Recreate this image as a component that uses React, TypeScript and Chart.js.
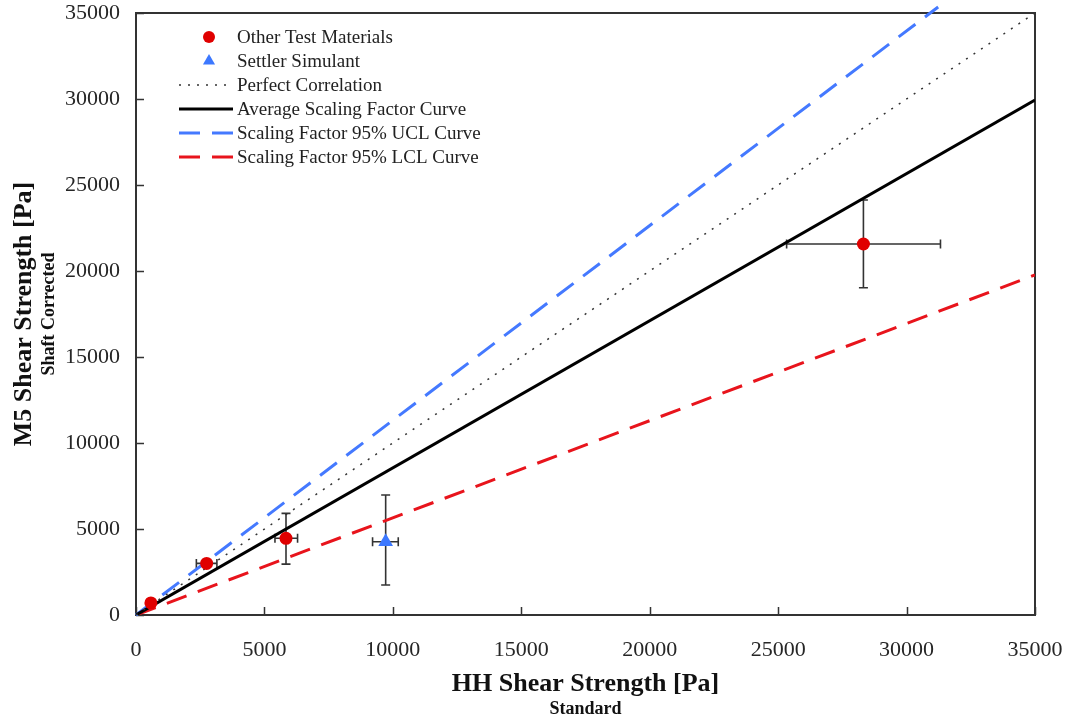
import React, { useEffect, useRef } from 'react';
import { Chart, registerables } from 'chart.js';

Chart.register(...registerables);

const FONT = '"Liberation Serif", "Times New Roman", serif';

// ---- data ----
const otherX = [580, 2750, 5840, 28320];
const otherY = [700, 3000, 4460, 21570];
const otherXLow = [null, 2350, 5410, 25330];
const otherXHigh = [null, 3150, 6290, 31320];
const otherYLow = [null, null, 2960, 19030];
const otherYHigh = [null, null, 5910, 24130];

const settlerX = [9720];
const settlerY = [4260];
const settlerXLow = [9210];
const settlerXHigh = [10210];
const settlerYLow = [1740];
const settlerYHigh = [6980];

const perfectX = [0, 35000];
const perfectY = [0, 35000];
const avgX = [0, 35000];
const avgY = [0, 29940];
const uclX = [0, 31230];
const uclY = [0, 35350];
const lclX = [0, 35000];
const lclY = [0, 19770];

const xTickValues = [0, 5000, 10000, 15000, 20000, 25000, 30000, 35000];
const yTickValues = [0, 5000, 10000, 15000, 20000, 25000, 30000, 35000];

const legendLabels = [
  'Other Test Materials',
  'Settler Simulant',
  'Perfect Correlation',
  'Average Scaling Factor Curve',
  'Scaling Factor 95% UCL Curve',
  'Scaling Factor 95% LCL Curve',
];

const xTitle = 'HH Shear Strength [Pa]';
const xSubtitle = 'Standard';
const yTitle = 'M5 Shear Strength [Pa]';
const ySubtitle = 'Shaft Corrected';

const RED = '#E00000';
const BLUE_PT = '#3C78FF';
const BLUE_LINE = '#4479FF';
const RED_LINE = '#E8141C';
const AXIS = '#333333';

const zip = (xs: number[], ys: number[]) => xs.map((x, i) => ({ x, y: ys[i] }));

export default function App() {
  const ref = useRef<HTMLCanvasElement>(null);

  useEffect(() => {
    const canvas = ref.current!;

    const errorBarPlugin = {
      id: 'errorBars',
      beforeDatasetsDraw(chart: any) {
        const { ctx, scales } = chart;
        const xs = scales.x;
        const ys = scales.y;
        const groups = [
          [otherX, otherY, otherXLow, otherXHigh, otherYLow, otherYHigh],
          [settlerX, settlerY, settlerXLow, settlerXHigh, settlerYLow, settlerYHigh],
        ] as any[];
        ctx.save();
        ctx.strokeStyle = AXIS;
        ctx.lineWidth = 1.6;
        const cap = 4.5;
        groups.forEach(([gx, gy, xl, xh, yl, yh]) => {
          gx.forEach((xv: number, i: number) => {
            const px = xs.getPixelForValue(xv);
            const py = ys.getPixelForValue(gy[i]);
            if (xl[i] != null && xh[i] != null) {
              const a = xs.getPixelForValue(xl[i]);
              const b = xs.getPixelForValue(xh[i]);
              ctx.beginPath();
              ctx.moveTo(a, py); ctx.lineTo(b, py);
              ctx.moveTo(a, py - cap); ctx.lineTo(a, py + cap);
              ctx.moveTo(b, py - cap); ctx.lineTo(b, py + cap);
              ctx.stroke();
            }
            if (yl[i] != null && yh[i] != null) {
              const a = ys.getPixelForValue(yl[i]);
              const b = ys.getPixelForValue(yh[i]);
              ctx.beginPath();
              ctx.moveTo(px, a); ctx.lineTo(px, b);
              ctx.moveTo(px - cap, a); ctx.lineTo(px + cap, a);
              ctx.moveTo(px - cap, b); ctx.lineTo(px + cap, b);
              ctx.stroke();
            }
          });
        });
        ctx.restore();
      },
    };

    const framePlugin = {
      id: 'frame',
      beforeDatasetsDraw(chart: any) {
        const { ctx, chartArea: ca, scales } = chart;
        ctx.save();
        ctx.strokeStyle = AXIS;
        ctx.lineWidth = 2;
        ctx.strokeRect(ca.left, ca.top, ca.right - ca.left, ca.bottom - ca.top);
        ctx.lineWidth = 1.5;
        ctx.beginPath();
        scales.x.ticks.forEach((t: any) => {
          const p = Math.round(scales.x.getPixelForValue(t.value)) + 0.5;
          ctx.moveTo(p, ca.bottom);
          ctx.lineTo(p, ca.bottom - 8);
        });
        scales.y.ticks.forEach((t: any) => {
          const p = Math.round(scales.y.getPixelForValue(t.value)) + 0.5;
          ctx.moveTo(ca.left, p);
          ctx.lineTo(ca.left + 8, p);
        });
        ctx.stroke();
        ctx.restore();
      },
    };

    const textPlugin = {
      id: 'extraText',
      afterDraw(chart: any) {
        const { ctx, chartArea: ca } = chart;
        ctx.save();
        ctx.fillStyle = '#111';
        ctx.font = `bold 18px ${FONT}`;
        ctx.textAlign = 'center';
        ctx.textBaseline = 'middle';
        ctx.fillText(xSubtitle, (ca.left + ca.right) / 2, 709);
        ctx.translate(49, (ca.top + ca.bottom) / 2);
        ctx.rotate(-Math.PI / 2);
        ctx.fillText(ySubtitle, 0, 0);
        ctx.restore();

        // legend
        ctx.save();
        const x0 = ca.left + 43;
        const x1 = ca.left + 97;
        const tx = ca.left + 101;
        const mx = (x0 + x1) / 2 + 3;
        legendLabels.forEach((label, i) => {
          const y = ca.top + 24 + i * 24;
          ctx.save();
          if (i === 0) {
            ctx.fillStyle = RED;
            ctx.beginPath();
            ctx.arc(mx, y, 6, 0, Math.PI * 2);
            ctx.fill();
          } else if (i === 1) {
            ctx.fillStyle = BLUE_PT;
            const r = 7;
            ctx.beginPath();
            ctx.moveTo(mx, y - r);
            ctx.lineTo(mx + r * Math.sin((2 * Math.PI) / 3), y - r * Math.cos((2 * Math.PI) / 3));
            ctx.lineTo(mx + r * Math.sin((4 * Math.PI) / 3), y - r * Math.cos((4 * Math.PI) / 3));
            ctx.closePath();
            ctx.fill();
          } else {
            const styles: any = {
              2: { c: AXIS, w: 1.5, d: [2, 7] },
              3: { c: '#000', w: 3, d: [] },
              4: { c: BLUE_LINE, w: 3, d: [21, 12] },
              5: { c: RED_LINE, w: 3, d: [21, 12] },
            };
            const s = styles[i];
            ctx.strokeStyle = s.c;
            ctx.lineWidth = s.w;
            ctx.setLineDash(s.d);
            ctx.beginPath();
            ctx.moveTo(x0, y);
            ctx.lineTo(x1, y);
            ctx.stroke();
          }
          ctx.restore();
          ctx.fillStyle = '#222';
          ctx.font = `19px ${FONT}`;
          ctx.textAlign = 'left';
          ctx.textBaseline = 'middle';
          ctx.fillText(label, tx, y + 1);
        });
        ctx.restore();
      },
    };

    const chart = new Chart(canvas, {
      type: 'scatter',
      data: {
        datasets: [
          {
            label: legendLabels[0],
            data: zip(otherX, otherY),
            pointStyle: 'circle',
            pointRadius: 6.5,
            backgroundColor: RED,
            borderColor: RED,
            borderWidth: 0,
            order: 0,
          },
          {
            label: legendLabels[1],
            data: zip(settlerX, settlerY),
            pointStyle: 'triangle',
            pointRadius: 8.5,
            backgroundColor: BLUE_PT,
            borderColor: BLUE_PT,
            borderWidth: 0,
            order: 0,
          },
          {
            label: legendLabels[2],
            data: zip(perfectX, perfectY),
            showLine: true,
            pointRadius: 0,
            borderColor: AXIS,
            borderWidth: 1.5,
            borderDash: [2, 7],
            order: 1,
          },
          {
            label: legendLabels[3],
            data: zip(avgX, avgY),
            showLine: true,
            pointRadius: 0,
            borderColor: '#000',
            borderWidth: 3,
            order: 1,
          },
          {
            label: legendLabels[4],
            data: zip(uclX, uclY),
            showLine: true,
            pointRadius: 0,
            borderColor: BLUE_LINE,
            borderWidth: 3,
            borderDash: [21, 12],
            clip: false,
            order: 1,
          },
          {
            label: legendLabels[5],
            data: zip(lclX, lclY),
            showLine: true,
            pointRadius: 0,
            borderColor: RED_LINE,
            borderWidth: 3,
            borderDash: [21, 12],
            order: 1,
          },
        ] as any,
      },
      options: {
        animation: false,
        responsive: false,
        devicePixelRatio: 1,
        layout: { padding: { top: 13, right: 32, left: 0, bottom: 0 } },
        plugins: {
          legend: { display: false },
          tooltip: { enabled: false },
          title: { display: false },
        },
        scales: {
          x: {
            type: 'linear',
            min: 0,
            max: 35000,
            grid: { display: false, drawTicks: false },
            border: { display: false },
            afterBuildTicks: (s: any) => {
              s.ticks = xTickValues.map((v) => ({ value: v }));
            },
            afterFit: (s: any) => {
              s.height = 106;
              s.paddingLeft = 0;
              s.paddingRight = 0;
            },
            ticks: {
              padding: 22,
              maxRotation: 0,
              color: '#262626',
              font: { family: FONT, size: 22 },
              callback: (v: any) => String(v),
            },
            title: {
              display: true,
              text: xTitle,
              color: '#111',
              font: { family: FONT, size: 26, weight: 'bold', lineHeight: 1.2 },
              padding: { top: 0, bottom: 21 },
            },
          },
          y: {
            type: 'linear',
            min: 0,
            max: 35000,
            grid: { display: false, drawTicks: false },
            border: { display: false },
            afterBuildTicks: (s: any) => {
              s.ticks = yTickValues.map((v) => ({ value: v }));
            },
            afterFit: (s: any) => {
              s.width = 136;
              s.paddingTop = 0;
              s.paddingBottom = 0;
            },
            ticks: {
              padding: 16,
              color: '#262626',
              font: { family: FONT, size: 22 },
              callback: (v: any) => String(v),
            },
            title: {
              display: true,
              text: yTitle,
              color: '#111',
              font: { family: FONT, size: 26, weight: 'bold', lineHeight: 1.2 },
              padding: { top: 9, bottom: 0 },
            },
          },
        },
      } as any,
      plugins: [framePlugin, errorBarPlugin, textPlugin],
    });
    return () => chart.destroy();
  }, []);

  return (
    <div style={{ position: 'fixed', left: 0, top: 0, width: 1067, height: 721, background: '#fff' }}>
      <canvas ref={ref} width={1067} height={721} style={{ display: 'block', width: 1067, height: 721 }} />
    </div>
  );
}
